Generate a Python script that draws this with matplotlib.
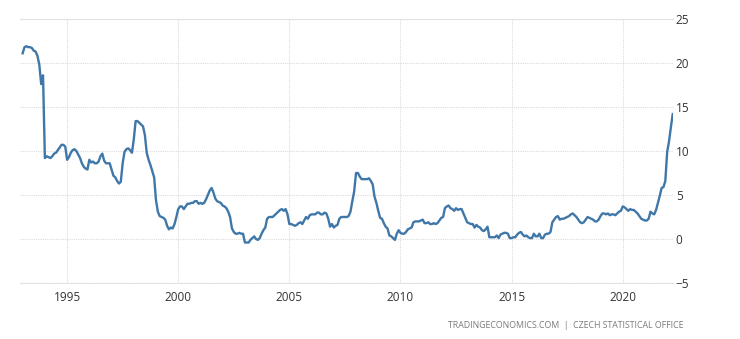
import numpy as np
import matplotlib
matplotlib.use('Agg')
import matplotlib.pyplot as plt

# Czech Republic inflation rate, year over year, monthly from Jan 1993 to Apr 2022
start_year = 1993
cpi_1993 = [21.1, 21.8, 21.9, 21.8, 21.8, 21.7, 21.4, 21.3, 20.8, 19.8, 17.6, 18.6]
cpi_1994 = [9.2, 9.4, 9.3, 9.2, 9.4, 9.7, 9.8, 10.1, 10.4, 10.7, 10.7, 10.5]
cpi_1995 = [9.0, 9.3, 9.8, 10.1, 10.2, 10.0, 9.6, 9.2, 8.6, 8.2, 8.0, 7.9]
cpi_1996 = [9.0, 8.7, 8.8, 8.6, 8.6, 8.8, 9.4, 9.7, 8.9, 8.6, 8.6, 8.6]
cpi_1997 = [7.9, 7.2, 7.0, 6.6, 6.3, 6.5, 8.6, 9.9, 10.2, 10.3, 10.1, 9.8]
cpi_1998 = [11.3, 13.4, 13.4, 13.2, 13.0, 12.8, 11.8, 9.8, 9.0, 8.4, 7.7, 7.0]
cpi_1999 = [4.4, 3.1, 2.6, 2.5, 2.4, 2.2, 1.5, 1.1, 1.3, 1.2, 1.7, 2.5]
cpi_2000 = [3.4, 3.7, 3.7, 3.4, 3.7, 4.0, 4.0, 4.1, 4.1, 4.3, 4.3, 4.0]
cpi_2001 = [4.1, 4.0, 4.1, 4.5, 5.0, 5.5, 5.8, 5.3, 4.6, 4.3, 4.2, 4.1]
cpi_2002 = [3.8, 3.7, 3.5, 3.1, 2.5, 1.2, 0.8, 0.6, 0.6, 0.7, 0.6, 0.6]
cpi_2003 = [-0.4, -0.4, -0.4, -0.1, 0.1, 0.3, 0.0, -0.1, 0.1, 0.6, 1.0, 1.3]
cpi_2004 = [2.3, 2.5, 2.5, 2.5, 2.7, 2.9, 3.1, 3.3, 3.4, 3.2, 3.4, 2.8]
cpi_2005 = [1.7, 1.7, 1.6, 1.5, 1.6, 1.8, 1.9, 1.7, 2.1, 2.5, 2.3, 2.7]
cpi_2006 = [2.8, 2.8, 2.8, 3.0, 3.0, 2.8, 2.8, 3.0, 2.9, 2.3, 1.4, 1.7]
cpi_2007 = [1.3, 1.5, 1.6, 2.3, 2.5, 2.5, 2.5, 2.5, 2.6, 3.1, 4.3, 5.4]
cpi_2008 = [7.5, 7.5, 7.1, 6.8, 6.8, 6.8, 6.8, 6.9, 6.6, 6.2, 4.8, 4.1]
cpi_2009 = [3.2, 2.4, 2.3, 1.8, 1.4, 1.2, 0.4, 0.3, 0.1, -0.1, 0.6, 1.0]
cpi_2010 = [0.7, 0.6, 0.6, 0.8, 1.1, 1.2, 1.3, 1.9, 2.0, 2.0, 2.0, 2.1]
cpi_2011 = [2.2, 1.8, 1.8, 1.9, 1.7, 1.7, 1.8, 1.7, 1.8, 2.1, 2.4, 2.5]
cpi_2012 = [3.5, 3.7, 3.8, 3.5, 3.4, 3.2, 3.5, 3.3, 3.4, 3.4, 2.9, 2.4]
cpi_2013 = [1.9, 1.8, 1.7, 1.7, 1.3, 1.6, 1.4, 1.3, 1.0, 0.9, 1.1, 1.4]
cpi_2014 = [0.2, 0.2, 0.2, 0.2, 0.4, 0.1, 0.5, 0.6, 0.7, 0.7, 0.6, 0.1]
cpi_2015 = [0.1, 0.2, 0.2, 0.5, 0.7, 0.8, 0.5, 0.3, 0.4, 0.2, 0.1, 0.1]
cpi_2016 = [0.6, 0.3, 0.3, 0.6, 0.1, 0.1, 0.5, 0.6, 0.6, 0.8, 1.9, 2.2]
cpi_2017 = [2.5, 2.6, 2.2, 2.3, 2.3, 2.4, 2.5, 2.6, 2.8, 2.9, 2.7, 2.5]
cpi_2018 = [2.2, 1.9, 1.8, 1.9, 2.2, 2.5, 2.4, 2.3, 2.2, 2.0, 2.0, 2.2]
cpi_2019 = [2.6, 2.9, 2.9, 2.8, 2.9, 2.7, 2.8, 2.8, 2.7, 2.9, 3.1, 3.2]
cpi_2020 = [3.7, 3.6, 3.4, 3.2, 3.4, 3.3, 3.3, 3.1, 2.9, 2.6, 2.3, 2.2]
cpi_2021 = [2.1, 2.1, 2.3, 3.1, 2.9, 2.8, 3.3, 4.1, 4.9, 5.8, 5.9, 6.6]
cpi_2022 = [9.9, 11.1, 12.7, 14.2]

year_ticks = [1995, 2000, 2005, 2010, 2015, 2020]
value_ticks = [-5, 0, 5, 10, 15, 20, 25]
source_text = 'TRADINGECONOMICS.COM  |  CZECH STATISTICAL OFFICE'

values = np.concatenate([
    cpi_1993, cpi_1994, cpi_1995, cpi_1996, cpi_1997, cpi_1998, cpi_1999,
    cpi_2000, cpi_2001, cpi_2002, cpi_2003, cpi_2004, cpi_2005, cpi_2006,
    cpi_2007, cpi_2008, cpi_2009, cpi_2010, cpi_2011, cpi_2012, cpi_2013,
    cpi_2014, cpi_2015, cpi_2016, cpi_2017, cpi_2018, cpi_2019, cpi_2020,
    cpi_2021, cpi_2022])
dates = start_year + np.arange(len(values)) / 12.0

plt.rcParams['font.family'] = ['Open Sans', 'DejaVu Sans']

fig = plt.figure(figsize=(7.4, 3.39), dpi=100)
ax = fig.add_axes([0.027, 0.1652, 0.8824, 0.7788])

ax.plot(dates, values, color='#3f77a8', linewidth=1.7, solid_joinstyle='round')

ax.set_xlim(1992.88, 2022.26)
ax.set_ylim(-5, 25)
ax.set_xticks(year_ticks)
ax.set_yticks(value_ticks)
ax.yaxis.tick_right()

# light dotted grid, outer horizontal lines solid
ax.grid(True, color='#dcdcdc', linestyle=(0, (1, 1)), linewidth=0.8)
ax.set_axisbelow(True)
for s in ax.spines.values():
    s.set_visible(False)
for edge in ('top', 'bottom'):
    ax.spines[edge].set_visible(True)
    ax.spines[edge].set_color('#e2e2e2')
    ax.spines[edge].set_linewidth(0.8)

ax.tick_params(axis='both', length=0, labelsize=8.5, colors='#333333')
ax.tick_params(axis='x', pad=6)
ax.tick_params(axis='y', pad=2)

fig.text(0.923, 0.041, source_text, ha='right', va='center',
         fontsize=6.3, color='#7a7a7a')

fig.savefig('out.png', dpi=100, facecolor='white')
